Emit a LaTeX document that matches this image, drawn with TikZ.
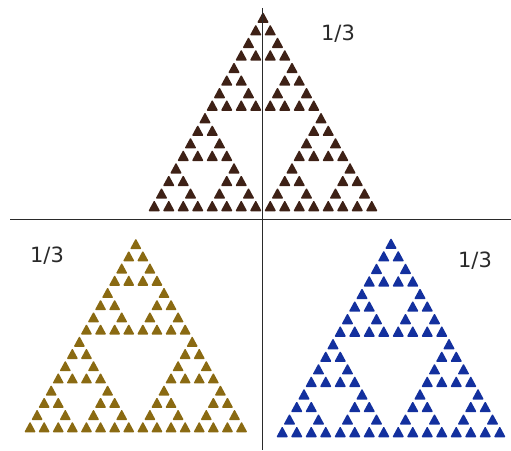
\documentclass[tikz,border=0pt]{standalone}
\usepackage{fontspec}
\setmainfont{DejaVu Sans}
\usepackage{xcolor}
\usepackage{tikz}
\definecolor{umber}{HTML}{3E2116}
\definecolor{ochre}{HTML}{8A6A12}
\definecolor{royal}{HTML}{13309E}
\definecolor{ink}{HTML}{2A2A2A}
\tikzset{
	cell/.style={rounded corners=1pt, line join=round},
	axis/.style={draw=ink, line width=0.9pt},
	ratio/.style={text=ink, font=\fontsize{21}{25}\selectfont, inner sep=0pt},
}
% level-4 gasket: #1,#2 = lower left corner, #3 = cell size, #4 = colour
\newcommand{\gasket}[4]{%
	\foreach \ax/\ay in {0/0, 1/0, 0.5/0.866}
	\foreach \bx/\by in {0/0, 1/0, 0.5/0.866}
	\foreach \cx/\cy in {0/0, 1/0, 0.5/0.866}
	\foreach \dx/\dy in {0/0, 1/0, 0.5/0.866}
	\fill[cell, #4] ({#1+#3*(8*\ax+4*\bx+2*\cx+\dx+0.09)}, {#2+#3*(8*\ay+4*\by+2*\cy+\dy+0.05)})
		-- ++({0.82*#3}, 0) -- ++({-0.41*#3}, {0.76*#3}) -- cycle;
}

\begin{document}
\begin{tikzpicture}[x=1pt, y=1pt]
	\useasboundingbox (0,0) rectangle (511,450);
	\gasket{147}{238}{14.5}{umber}
	\gasket{23}{17}{14.1}{ochre}
	\gasket{275}{12}{14.5}{royal}
	\coordinate (vtop) at (262,442);
	\coordinate (vbot) at (262,0);
	\coordinate (hleft) at (10,231);
	\coordinate (hright) at (511,231);
	\draw[axis] (vtop) -- (vbot);
	\draw[axis] (hleft) -- (hright);
	\node[ratio] (topratio) at (338,416) {1/3};
	\node[ratio] (leftratio) at (47,194) {1/3};
	\node[ratio] (rightratio) at (475,189) {1/3};
\end{tikzpicture}
\end{document}
